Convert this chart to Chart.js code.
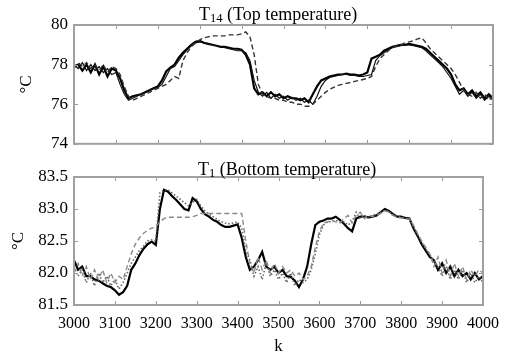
<!DOCTYPE html>
<html>
<head>
<meta charset="utf-8">
<script src="https://cdn.jsdelivr.net/npm/chart.js@4"></script>
<style>
body { margin: 0; background: #fff; }
#wrap { position: relative; width: 508px; height: 356px; font-family: 'Liberation Serif', serif; }
.box { position: absolute; left: 0; width: 508px; }
.ttl { position: absolute; font-size: 18px; color: #000; white-space: nowrap; line-height: 17px; }
.ttl sub { font-size: 12.5px; vertical-align: -2px; }
</style>
</head>
<body>
<div id="wrap">
  <div class="box" style="top:0;height:160px"><canvas id="topChart"></canvas></div>
  <div class="box" style="top:160px;height:196px"><canvas id="botChart"></canvas></div>
  <div class="ttl" style="left:199px;top:6px">T<sub>14</sub> (Top temperature)</div>
  <div class="ttl" style="left:198px;top:161px">T<sub>1</sub> (Bottom temperature)</div>
</div>
<script>
// sample index k, one value every 10 samples
const kGrid = [3000,3010,3020,3030,3040,3050,3060,3070,3080,3090,
  3100,3110,3120,3130,3140,3150,3160,3170,3180,3190,
  3200,3210,3220,3230,3240,3250,3260,3270,3280,3290,
  3300,3310,3320,3330,3340,3350,3360,3370,3380,3390,
  3400,3410,3420,3430,3440,3450,3460,3470,3480,3490,
  3500,3510,3520,3530,3540,3550,3560,3570,3580,3590,
  3600,3610,3620,3630,3640,3650,3660,3670,3680,3690,
  3700,3710,3720,3730,3740,3750,3760,3770,3780,3790,
  3800,3810,3820,3830,3840,3850,3860,3870,3880,3890,
  3900,3910,3920,3930,3940,3950,3960,3970,3980,3990,4000];

const xTicks = [3000,3100,3200,3300,3400,3500,3600,3700,3800,3900,4000];
const topTicks = [74,76,78,80];
const botTicks = [81.5,82.0,82.5,83.0,83.5];

// T14 top temperature
const topMain = [77.9,78.0,77.7,78.0,77.6,78.0,77.5,77.9,77.4,77.8,
  77.7,77.3,76.7,76.3,76.4,76.45,76.5,76.6,76.7,76.8,
  76.9,77.2,77.65,77.85,78.0,78.35,78.6,78.8,79.0,79.15,
  79.2,79.1,79.05,79.0,78.95,78.9,78.9,78.85,78.8,78.8,
  78.75,78.5,78.0,76.8,76.5,76.6,76.4,76.6,76.4,76.5,
  76.3,76.4,76.3,76.3,76.2,76.3,76.1,76.5,76.9,77.2,
  77.3,77.4,77.45,77.5,77.5,77.55,77.5,77.5,77.45,77.5,
  77.6,78.3,78.4,78.5,78.7,78.8,78.9,78.95,79.0,79.0,
  79.05,79.0,78.95,78.9,78.8,78.6,78.4,78.2,78.0,77.8,
  77.5,77.0,76.7,76.8,76.5,76.7,76.4,76.6,76.3,76.5,76.3];
const topSecond = [78.0,77.8,78.1,77.7,78.0,77.7,77.9,77.6,77.8,77.5,
  77.6,77.0,76.5,76.2,76.3,76.4,76.5,76.6,76.7,76.8,
  76.85,77.0,77.4,77.8,77.9,78.2,78.5,78.75,78.95,79.1,
  79.15,79.1,79.05,79.0,78.95,78.9,78.85,78.8,78.75,78.7,
  78.7,78.6,78.2,77.2,76.6,76.4,76.6,76.3,76.5,76.3,
  76.4,76.2,76.35,76.2,76.3,76.1,76.2,76.0,76.4,76.9,
  77.2,77.35,77.4,77.45,77.5,77.5,77.45,77.45,77.4,77.4,
  77.45,77.5,78.2,78.45,78.6,78.75,78.85,78.9,78.95,79.0,
  79.0,78.95,78.9,78.85,78.7,78.5,78.3,78.1,77.9,77.6,
  77.3,76.9,76.5,76.7,76.4,76.6,76.3,76.5,76.2,76.4,76.2];
const topDashed = [77.8,78.1,77.9,78.1,77.8,78.0,77.7,78.0,77.6,77.9,
  77.8,77.5,76.9,76.4,76.2,76.3,76.4,76.5,76.6,76.7,
  76.8,76.9,77.0,77.2,77.4,77.3,78.2,78.6,78.9,79.1,
  79.25,79.35,79.4,79.45,79.45,79.45,79.45,79.5,79.5,79.5,
  79.55,79.65,79.4,78.5,77.0,76.5,76.4,76.3,76.3,76.2,
  76.2,76.1,76.1,76.0,76.0,75.9,75.9,76.0,76.2,76.4,
  76.6,76.75,76.85,76.95,77.0,77.05,77.1,77.15,77.2,77.25,
  77.3,77.4,77.9,78.3,78.5,78.7,78.85,78.95,79.0,79.1,
  79.15,79.2,79.3,79.35,79.1,78.8,78.6,78.4,78.2,78.0,
  77.8,77.5,77.1,76.7,76.5,76.4,76.6,76.3,76.5,76.2,76.4];

// T1 bottom temperature
const botMain = [82.2,82.05,82.1,81.95,81.95,81.9,81.88,81.84,81.8,81.78,
  81.73,81.66,81.7,81.8,82.05,82.15,82.28,82.38,82.45,82.49,
  82.44,83.0,83.3,83.27,83.2,83.14,83.07,83.0,82.98,83.17,
  83.12,83.0,82.92,82.88,82.83,82.8,82.75,82.72,82.72,82.74,
  82.76,82.55,82.25,82.05,82.1,82.2,82.33,82.1,82.05,82.1,
  82.0,82.05,81.95,81.94,81.88,81.78,81.9,82.1,82.45,82.75,
  82.8,82.82,82.85,82.85,82.88,82.83,82.77,82.7,82.65,82.85,
  82.88,82.88,82.87,82.88,82.9,82.95,83.0,82.97,82.92,82.88,
  82.88,82.86,82.85,82.7,82.58,82.45,82.35,82.25,82.2,82.05,
  82.15,82.0,82.1,81.95,82.05,81.95,82.0,81.9,82.0,81.9,81.95];
const botDashed = [82.0,82.15,81.95,82.1,81.9,82.05,81.9,82.05,81.85,82.0,
  81.85,81.95,81.9,82.1,82.3,82.45,82.55,82.62,82.67,82.7,
  82.72,82.8,82.85,82.87,82.87,82.87,82.87,82.87,82.87,82.88,
  82.9,82.93,82.93,82.93,82.93,82.93,82.93,82.93,82.93,82.93,
  82.93,82.93,82.5,82.15,82.0,82.25,82.05,82.2,82.0,82.15,
  82.0,82.1,82.0,82.05,81.95,82.0,81.9,81.95,82.1,82.4,
  82.65,82.78,82.8,82.82,82.8,82.78,82.85,82.9,82.78,82.9,
  82.95,82.85,82.9,82.88,82.9,82.93,82.97,82.95,82.9,82.87,
  82.86,82.85,82.84,82.75,82.62,82.5,82.4,82.3,82.1,82.25,
  82.0,82.2,81.95,82.15,81.95,82.1,81.9,82.05,81.95,82.05,82.0];
const botDotted = [82.1,81.95,82.05,81.85,82.0,81.8,82.0,81.85,81.95,81.8,
  81.9,81.75,81.85,82.0,82.15,82.25,82.35,82.42,82.5,82.52,
  82.5,83.25,83.3,83.3,83.25,83.2,83.15,83.1,83.05,83.1,
  83.15,83.05,82.97,82.92,82.88,82.84,82.8,82.78,82.77,82.78,
  82.8,82.7,82.35,82.2,81.95,82.1,81.9,82.15,81.95,82.05,
  81.9,82.0,81.85,82.0,81.8,81.9,81.85,81.9,82.05,82.3,
  82.6,82.75,82.8,82.8,82.82,82.8,82.8,82.75,82.8,82.95,
  82.85,82.9,82.86,82.9,82.92,82.95,82.98,82.96,82.9,82.88,
  82.87,82.86,82.84,82.72,82.6,82.48,82.38,82.28,82.2,82.1,
  81.95,82.1,81.9,82.05,81.9,82.05,81.85,82.0,81.85,81.95,81.85];

const serif = 'Liberation Serif';

function pts(vals) {
  return vals.map((v, i) => ({ x: kGrid[i], y: v }));
}

// grey frame plus small inward ticks, like the matlab axes box
const framePlugin = {
  id: 'frame',
  afterDatasetsDraw(chart) {
    const { ctx, chartArea: a, scales } = chart;
    ctx.save();
    ctx.strokeStyle = '#9a9a9a';
    ctx.lineWidth = 1;
    ctx.beginPath();
    xTicks.forEach(t => {
      const x = Math.round(scales.x.getPixelForValue(t)) + 0.5;
      ctx.moveTo(x, a.bottom); ctx.lineTo(x, a.bottom - 4);
      ctx.moveTo(x, a.top); ctx.lineTo(x, a.top + 4);
    });
    scales.y.ticks.forEach(t => {
      const y = Math.round(scales.y.getPixelForValue(t.value)) + 0.5;
      ctx.moveTo(a.left, y); ctx.lineTo(a.left + 4, y);
      ctx.moveTo(a.right, y); ctx.lineTo(a.right - 4, y);
    });
    ctx.stroke();
    ctx.lineWidth = 2;
    ctx.strokeStyle = '#a0a0a0';
    ctx.strokeRect(a.left, a.top, a.right - a.left, a.bottom - a.top);
    ctx.restore();
  }
};

function lineSet(vals, color, width, dash) {
  return {
    data: pts(vals),
    borderColor: color,
    borderWidth: width,
    borderDash: dash,
    pointRadius: 0,
    tension: 0,
    fill: false
  };
}

function makeChart(id, sets, yMin, yMax, yTicks, fmt, opts) {
  return new Chart(document.getElementById(id), {
    type: 'line',
    data: { datasets: sets },
    options: {
      responsive: true,
      maintainAspectRatio: false,
      animation: false,
      layout: { padding: opts.padding },
      plugins: { legend: { display: false }, tooltip: { enabled: false } },
      scales: {
        x: {
          type: 'linear',
          min: 3000,
          max: 4000,
          afterBuildTicks: s => { s.ticks = xTicks.map(v => ({ value: v })); },
          afterFit: s => { s.height = opts.xHeight; },
          grid: { display: false, drawTicks: false },
          border: { display: false },
          ticks: {
            display: opts.showX,
            padding: 9,
            color: '#000',
            font: { family: serif, size: 16 },
            maxRotation: 0,
            autoSkip: false,
            callback: v => String(v)
          },
          title: {
            display: opts.showX,
            text: 'k',
            color: '#000',
            font: { family: serif, size: 17, lineHeight: 1 },
            padding: { top: 0, bottom: 0.5 }
          }
        },
        y: {
          min: yMin,
          max: yMax,
          afterBuildTicks: s => { s.ticks = yTicks.map(v => ({ value: v })); },
          afterFit: s => { s.width = 74; },
          grid: { display: false, drawTicks: false },
          border: { display: false },
          ticks: {
            padding: 6,
            color: '#000',
            font: { family: serif, size: 17 },
            callback: v => fmt(v)
          },
          title: {
            display: true,
            text: '°C',
            color: '#000',
            font: { family: serif, size: 17, lineHeight: 1 },
            padding: { top: opts.yTitleLeft, bottom: 0 }
          }
        }
      }
    },
    plugins: [framePlugin]
  });
}

makeChart('topChart', [
  lineSet(topDashed, '#333', 1.4, [5, 3]),
  lineSet(topSecond, '#111', 1.2, []),
  lineSet(topMain, '#000', 2.2, [])
], 74, 80, topTicks, v => String(v), {
  padding: { top: 25, right: 15, bottom: 6, left: 0 },
  xHeight: 0,
  showX: false,
  yTitleLeft: 18.5
});

makeChart('botChart', [
  lineSet(botDashed, '#8a8a8a', 1.4, [5, 3]),
  lineSet(botDotted, '#666', 1.6, [1.5, 2]),
  lineSet(botMain, '#000', 2.2, [])
], 81.5, 83.5, botTicks, v => v.toFixed(1), {
  padding: { top: 17, right: 15, bottom: 0, left: 0 },
  xHeight: 51,
  showX: true,
  yTitleLeft: 10
});
</script>
</body>
</html>
